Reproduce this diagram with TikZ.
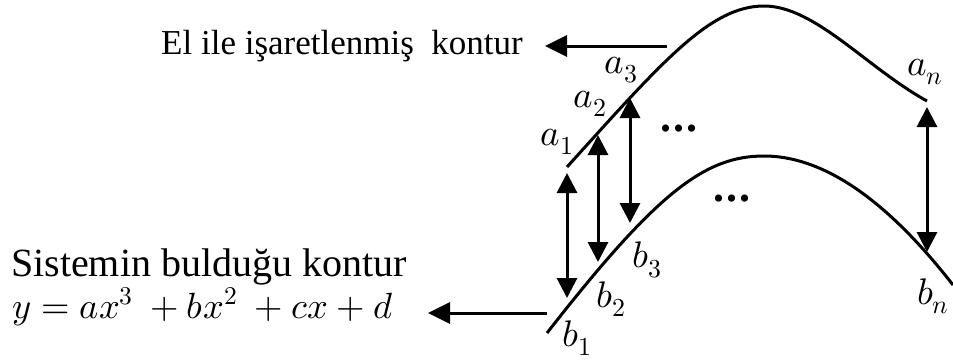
\documentclass[tikz,border=0pt]{standalone}
\usepackage{fontspec}
\usepackage{unicode-math}
\setmainfont{Liberation Serif}
\setmathfont{Latin Modern Math}
\usetikzlibrary{arrows.meta}
\tikzset{
  curve/.style={line width=3pt},
  dbl/.style={line width=3pt,{Triangle[length=20pt,width=20pt]}-{Triangle[length=20pt,width=20pt]}},
  sgl/.style={line width=3pt,-{Triangle[length=22pt,width=21pt]}},
  mlbl/.style={inner sep=0pt,font=\fontsize{37}{37}\selectfont},
  txt/.style={inner sep=0pt,font=\fontsize{35}{35}\selectfont},
  bigtxt/.style={inner sep=0pt,font=\fontsize{40}{40}\selectfont},
  eqtxt/.style={inner sep=0pt,font=\fontsize{36.5}{36.5}\selectfont},
  dots/.style={inner sep=0pt,font=\fontsize{44}{44}\selectfont\bfseries}
}
\begin{document}
\begin{tikzpicture}[x=1pt,y=-1pt]
\useasboundingbox (0,0) rectangle (953,362);
% curves
\coordinate (u0) at (567,167);
\coordinate (up) at (764,6);
\coordinate (un) at (927,101);
\coordinate (l0) at (547,333);
\coordinate (lp) at (764,156);
\coordinate (ln) at (953,285);
\draw[curve] (u0) .. controls (662,62) and (710,6) .. (up) .. controls (815,6) and (867,68) .. (un);
\draw[curve] (l0) .. controls (657,192) and (705,156) .. (lp) .. controls (820,156) and (883,195) .. (ln);
% double arrows
\coordinate (t1) at (567,173); \coordinate (s1) at (567,298);
\coordinate (t2) at (598,135); \coordinate (s2) at (598,262);
\coordinate (t3) at (630,98);  \coordinate (s3) at (630,223);
\coordinate (tn) at (927,107); \coordinate (sn) at (927,252);
\draw[dbl] (t1) -- (s1);
\draw[dbl] (t2) -- (s2);
\draw[dbl] (t3) -- (s3);
\draw[dbl] (tn) -- (sn);
% labels
\node[mlbl] (a1) at (557,142) {$a_1$};
\node[mlbl] (a2) at (590,104) {$a_2$};
\node[mlbl] (a3) at (621,70) {$a_3$};
\node[mlbl] (an) at (925,72) {$a_n$};
\node[mlbl] (b3) at (647,260) {$b_3$};
\node[mlbl] (b2) at (611,299) {$b_2$};
\node[mlbl] (b1) at (577,338) {$b_1$};
\node[mlbl] (bn) at (933,296) {$b_n$};
\node[dots,anchor=base] (d1) at (679,131) {.\hspace{2pt}.\hspace{2pt}.};
\node[dots,anchor=base] (d2) at (732,201) {.\hspace{2pt}.\hspace{2pt}.};
% texts
\node[txt,anchor=base west] (el) at (161,54) {El ile işaretlenmiş\ \ kontur};
\node[bigtxt,anchor=base west] (sis) at (11,276) {Sistemin bulduğu kontur};
\node[eqtxt,anchor=base west] (eq) at (12,318) {$y = ax^3\ + bx^2\ + cx + d$};
% horizontal arrows
\coordinate (h1) at (667,46);
\coordinate (h1e) at (545,46);
\coordinate (h2) at (547,313);
\coordinate (h2e) at (428,313);
\draw[sgl] (h1) -- (h1e);
\draw[sgl] (h2) -- (h2e);
\end{tikzpicture}
\end{document}
